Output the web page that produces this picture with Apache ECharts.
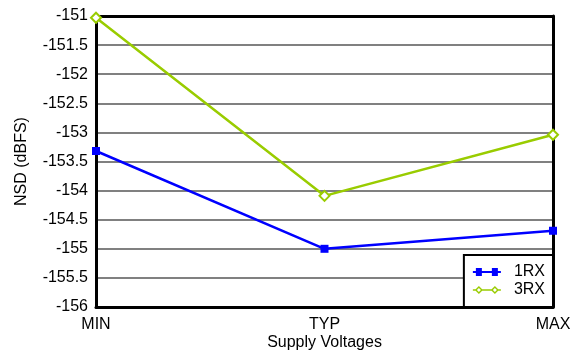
<!DOCTYPE html>
<html><head><meta charset="utf-8">
<script src="https://cdn.jsdelivr.net/npm/echarts@6/dist/echarts.min.js"></script>
<style>html,body{margin:0;padding:0;background:#fff}#c{width:577px;height:352px}</style>
</head><body><div id="c"></div>
<script>
const categories = ['MIN', 'TYP', 'MAX'];
const rx1 = [-153.32, -155.0, -154.69];
const rx3 = [-151.03, -154.09, -153.04];
const font = 'Liberation Sans, Arial, sans-serif';
const blue = '#0000FF', green = '#99CC00';
const icon1 = 'path://M0 3L28 3L28 5L0 5Z M3 0L9 0L9 8L3 8Z M19 0L25 0L25 8L19 8Z';
const icon3 = 'path://M6 0L10 4L6 8L2 4Z M6 2L4 4L6 6L8 4Z M22 0L26 4L22 8L18 4Z M22 2L20 4L22 6L24 4Z M0 3.2L2.8 3.2L2.8 4.8L0 4.8Z M9.2 3.2L18.8 3.2L18.8 4.8L9.2 4.8Z M25.2 3.2L28 3.2L28 4.8L25.2 4.8Z';
const frameLine = {show: true, lineStyle: {color: '#000', width: 3}};
const chart = echarts.init(document.getElementById('c'));
chart.setOption({
  animation: false,
  grid: {left: 96, right: 24, top: 16, bottom: 45, outerBoundsMode: 'none', containLabel: false},
  legend: {
    right: 24, bottom: 45, orient: 'vertical', itemGap: 2, itemWidth: 28, itemHeight: 8,
    padding: [9, 8, 9, 9], borderColor: '#000', borderWidth: 2, borderRadius: 0, backgroundColor: '#fff',
    textStyle: {fontFamily: font, fontSize: 16, color: '#000', lineHeight: 16, padding: [0, 0, 0, 8]},
    data: [
      {name: '1RX', icon: icon1, itemStyle: {color: blue, borderWidth: 0}},
      {name: '3RX', icon: icon3, itemStyle: {color: green, borderWidth: 0}}
    ]
  },
  xAxis: [{
    type: 'category', data: categories, boundaryGap: false,
    name: 'Supply Voltages', nameLocation: 'middle', nameGap: 28, nameMoveOverlap: false,
    nameTextStyle: {fontFamily: font, fontSize: 16, color: '#000'},
    axisLine: frameLine, axisTick: {show: false},
    axisLabel: {fontFamily: font, fontSize: 16, color: '#000', margin: 10}
  }, {
    type: 'category', data: categories, boundaryGap: false, position: 'top',
    axisLine: frameLine, axisTick: {show: false}, axisLabel: {show: false}
  }],
  yAxis: [{
    type: 'value', min: -156, max: -151, interval: 0.5,
    name: 'NSD (dBFS)', nameLocation: 'middle', nameGap: 66, nameRotate: 90, nameMoveOverlap: false,
    nameTextStyle: {fontFamily: font, fontSize: 16, color: '#000'},
    axisLine: frameLine, axisTick: {show: false},
    axisLabel: {fontFamily: font, fontSize: 16, color: '#000', margin: 8},
    splitLine: {lineStyle: {color: '#808080', width: 2}}
  }, {
    type: 'value', min: -156, max: -151, interval: 0.5, position: 'right',
    axisLine: frameLine, axisTick: {show: false}, axisLabel: {show: false}, splitLine: {show: false}
  }],
  series: [
    {name: '1RX', type: 'line', data: rx1, symbol: 'rect', symbolSize: 8, z: 3,
     lineStyle: {width: 2.5, color: blue}, itemStyle: {color: blue}},
    {name: '3RX', type: 'line', data: rx3, symbol: 'diamond', symbolSize: 10, z: 3,
     lineStyle: {width: 2.5, color: green}, itemStyle: {color: '#fff', borderColor: green, borderWidth: 2}}
  ]
});
</script></body></html>
